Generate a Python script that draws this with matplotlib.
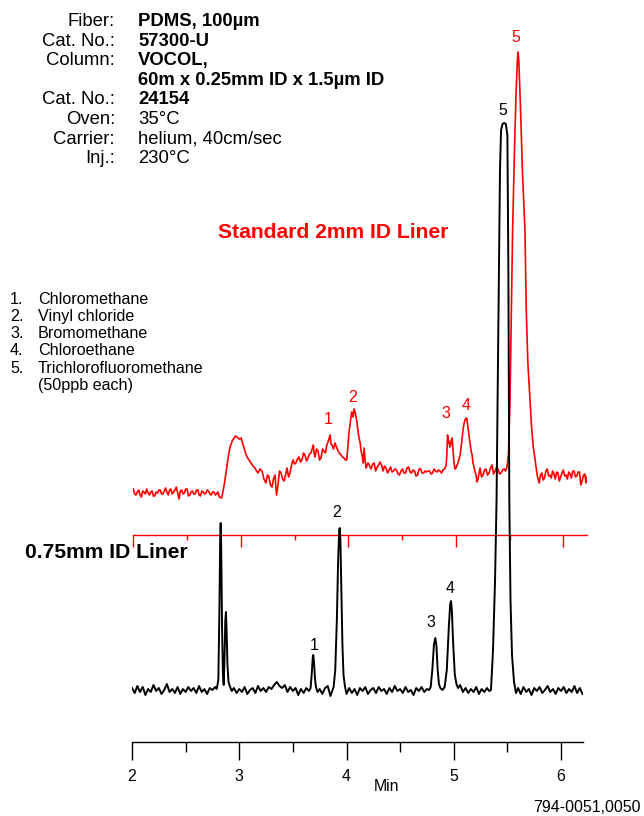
import matplotlib
matplotlib.use('Agg')
import matplotlib.pyplot as plt

plt.rcParams['font.family'] = ['Liberation Sans', 'DejaVu Sans']

# 0.75mm ID liner trace (black), time in min, response above baseline
black_t = [2.00, 2.025, 2.05, 2.075, 2.10, 2.125, 2.15, 2.175, 2.20, 2.225, 2.25, 2.275,
           2.30, 2.325, 2.35, 2.375, 2.40, 2.425, 2.45, 2.475, 2.50, 2.525, 2.55, 2.575,
           2.60, 2.625, 2.65, 2.675, 2.70, 2.725, 2.75, 2.775,
           2.79, 2.805, 2.815, 2.822, 2.827, 2.832, 2.840, 2.848, 2.855, 2.862, 2.870,
           2.876, 2.882, 2.890, 2.900, 2.915, 2.93,
           2.95, 2.975, 3.00, 3.025, 3.05, 3.075, 3.10, 3.125, 3.15, 3.175, 3.20, 3.225,
           3.25, 3.275, 3.30, 3.325, 3.35, 3.375, 3.40, 3.425, 3.45, 3.475, 3.50, 3.525,
           3.55, 3.575, 3.60, 3.625, 3.65,
           3.665, 3.675, 3.685, 3.690, 3.697, 3.706, 3.715, 3.73,
           3.75, 3.775, 3.80, 3.825, 3.85, 3.87,
           3.88, 3.895, 3.91, 3.922, 3.932, 3.937, 3.943, 3.952, 3.962, 3.972, 3.985, 4.00,
           4.025, 4.05, 4.075, 4.10, 4.125, 4.15, 4.175, 4.20, 4.225, 4.25, 4.275, 4.30,
           4.325, 4.35, 4.375, 4.40, 4.425, 4.45, 4.475, 4.50, 4.525, 4.55, 4.575, 4.60,
           4.625, 4.65, 4.675, 4.70, 4.725, 4.75, 4.77,
           4.785, 4.80, 4.815, 4.828, 4.838, 4.85, 4.862, 4.875,
           4.895, 4.915, 4.935, 4.955, 4.967, 4.974, 4.982, 4.995, 5.01, 5.025, 5.04,
           5.06, 5.085, 5.11, 5.135, 5.16, 5.185, 5.21, 5.235, 5.26, 5.285, 5.31, 5.33,
           5.347, 5.366, 5.385, 5.399, 5.415, 5.431, 5.441, 5.455, 5.469, 5.486, 5.50,
           5.509, 5.518, 5.529, 5.543, 5.562, 5.58,
           5.60, 5.625, 5.65, 5.675, 5.70, 5.725, 5.75, 5.775, 5.80, 5.825, 5.85, 5.875,
           5.90, 5.925, 5.95, 5.975, 6.00, 6.025, 6.05, 6.075, 6.10, 6.125, 6.15, 6.175, 6.20]
black_y = [2, -3, 4, -2, 3, -5, 1, -2, 5, -1, 2, -4,
           0, 6, -2, 1, -3, 3, -4, 1, -2, 3, -1, 2,
           -3, 4, -2, 1, -4, 2, 0, 3,
           1, 10, 80, 150, 167, 140, 60, 15, 5, 30, 70,
           78, 60, 25, 8, 3, -1,
           2, -3, 1, -2, 3, -4, 0, 2, -3, 4, -1, 2,
           -2, 3, 1, 5, 8, 4, 2, 5, -2, 3, -1, 2,
           -5, 1, -3, 2, -1,
           2, 15, 32, 35, 28, 12, 3, -2,
           1, -4, 2, 4, -6, 0,
           3, 20, 70, 130, 160, 162, 150, 100, 45, 15, 4, -4,
           2, -3, 1, -5, 2, -1, 3, -4, 0, 2, -3, 3,
           -1, 1, -4, 2, -2, 4, -1, 1, -3, 3, -2, 0,
           -5, 2, -1, 3, -2, 1, 0,
           3, 20, 45, 52, 45, 20, 6, 2,
           0, 3, 20, 65, 86, 89, 80, 45, 15, 6, 2,
           5, -2, 2, -3, 1, -2, 3, -4, 1, -2, 2, -1,
           0, 40, 110, 190, 357, 520, 560, 566, 567, 566, 555,
           423, 190, 90, 35, 8, -3,
           2, -4, 3, -2, 1, -5, 2, -1, 3, -3, 0, 4,
           -2, 1, -4, 2, -1, 3, -3, 1, -2, 4, -3, 2, -4]

# standard 2mm ID liner trace (red)
red_t = [2.00, 2.0125, 2.025, 2.0375, 2.05, 2.0625, 2.075, 2.0875, 2.10, 2.1125, 2.125, 2.1375,
         2.15, 2.1625, 2.175, 2.1875, 2.20, 2.2125, 2.225, 2.2375, 2.25, 2.2625, 2.275, 2.2875,
         2.30, 2.3125, 2.325, 2.3375, 2.35, 2.3625, 2.375, 2.3875, 2.40, 2.4125, 2.425, 2.4375,
         2.45, 2.4625, 2.475, 2.4875, 2.50, 2.5125, 2.525, 2.5375, 2.55, 2.5625, 2.575, 2.5875,
         2.60, 2.6125, 2.625, 2.6375, 2.65, 2.6625, 2.675, 2.6875, 2.70, 2.7125, 2.725, 2.7375,
         2.75, 2.7625, 2.775, 2.7875, 2.80,
         2.822, 2.842, 2.862, 2.88, 2.90, 2.92, 2.937, 2.95, 2.965, 2.985, 3.002, 3.016,
         3.03, 3.044, 3.058, 3.076, 3.095, 3.113, 3.132, 3.146, 3.16, 3.178, 3.197, 3.215,
         3.234, 3.248, 3.262, 3.276, 3.29, 3.304, 3.318, 3.332, 3.346, 3.36, 3.374, 3.388,
         3.402, 3.416, 3.43, 3.444, 3.458, 3.472, 3.486, 3.50, 3.513, 3.527, 3.541, 3.555,
         3.569, 3.583, 3.597, 3.611, 3.625, 3.639, 3.653, 3.664, 3.674, 3.682, 3.69, 3.704,
         3.718, 3.732, 3.746, 3.76, 3.774, 3.787, 3.80, 3.815, 3.83, 3.839, 3.848, 3.862,
         3.876, 3.89, 3.904, 3.918, 3.932, 3.946, 3.96, 3.972, 3.985, 3.995, 4.006, 4.02,
         4.032, 4.038, 4.044, 4.054, 4.063, 4.072, 4.081, 4.095, 4.11, 4.12, 4.128, 4.138,
         4.147, 4.156, 4.166, 4.175, 4.184, 4.198, 4.212, 4.226, 4.24, 4.254, 4.268, 4.282,
         4.295, 4.309, 4.323, 4.337, 4.35, 4.365, 4.379, 4.393, 4.407, 4.421, 4.435, 4.449,
         4.462, 4.476, 4.49, 4.504, 4.518, 4.532, 4.546, 4.56, 4.574, 4.588, 4.602, 4.616,
         4.63, 4.644, 4.658, 4.672, 4.686, 4.70, 4.714, 4.727, 4.74, 4.755, 4.77, 4.784,
         4.797, 4.811, 4.825, 4.839, 4.853, 4.867, 4.88, 4.895, 4.91, 4.917, 4.923, 4.93,
         4.937, 4.944, 4.951, 4.958, 4.965, 4.974, 4.983, 4.993, 5.002, 5.011, 5.02, 5.03,
         5.04, 5.049, 5.058, 5.068, 5.077, 5.089, 5.101, 5.108, 5.114, 5.123, 5.132, 5.142,
         5.151, 5.16, 5.17, 5.179, 5.188, 5.197, 5.207, 5.216, 5.225, 5.239, 5.253, 5.267,
         5.28, 5.295, 5.309, 5.323, 5.337, 5.351, 5.365, 5.379, 5.393, 5.407, 5.42, 5.435,
         5.449, 5.462, 5.476,
         5.49, 5.504, 5.516, 5.528, 5.545, 5.56, 5.572, 5.579, 5.586, 5.60, 5.62, 5.643,
         5.655, 5.67, 5.69, 5.705, 5.72, 5.735, 5.75, 5.76,
         5.775, 5.7875, 5.80, 5.8125, 5.825, 5.8375, 5.85, 5.8625, 5.875, 5.8875, 5.90, 5.9125,
         5.925, 5.9375, 5.95, 5.9625, 5.975, 5.9875, 6.00, 6.0125, 6.025, 6.0375, 6.05, 6.0625,
         6.075, 6.0875, 6.10, 6.1125, 6.125, 6.1375, 6.15, 6.1625, 6.175, 6.1875, 6.20, 6.21, 6.22]
red_y = [4, -1, -2, 1, 3, -2, -4, 2, 1, -1, 4, 0,
         -2, 1, 2, -3, -3, 1, 0, 3, 3, -1, -1, 2,
         5, 1, -2, 3, 4, -1, 1, 3, 6, 0, -6, 2,
         3, -1, 0, 4, 4, -3, -2, 1, 2, -1, -1, 3,
         3, -2, -3, 2, 1, -1, 0, 3, 2, -1, -2, 1,
         1, -2, -1, 1, -4,
         -5, 6, 20, 34, 46, 52, 55, 57, 56, 54, 55, 50,
         45, 40, 36, 33, 30, 27, 25, 22, 20, 24, 22, 14,
         10, 18, 16, 8, 6, 14, 18, -2, 8, 22, 20, 14,
         12, 18, 25, 16, 20, 28, 33, 29, 30, 34, 36, 31,
         33, 40, 38, 32, 35, 39, 40, 44, 48, 40, 36, 44,
         42, 33, 35, 44, 42, 40, 48, 52, 58, 49, 48, 44,
         50, 46, 42, 40, 38, 36, 35, 33, 33, 45, 60, 72,
         81, 79, 76, 84, 81, 76, 70, 58, 50, 41, 38, 30,
         45, 33, 25, 28, 30, 27, 24, 29, 30, 22, 26, 28,
         31, 28, 22, 27, 25, 20, 23, 26, 21, 22, 24, 23,
         19, 18, 22, 24, 20, 20, 25, 26, 21, 20, 23, 22,
         17, 18, 24, 24, 20, 20, 22, 21, 22, 22, 19, 20,
         24, 22, 21, 23, 22, 20, 23, 24, 28, 40, 58, 50,
         52, 46, 48, 53, 55, 42, 30, 24, 25, 28, 30, 34,
         38, 46, 55, 64, 70, 74, 75, 70, 65, 57, 50, 42,
         38, 30, 25, 21, 18, 11, 14, 20, 25, 16, 18, 23,
         24, 18, 20, 25, 28, 19, 22, 26, 24, 19, 20, 23,
         24, 22, 26,
         40, 93, 180, 263, 340, 400, 432, 441, 432, 390, 320, 263,
         183, 130, 93, 65, 46, 35, 23, 16,
         10, 18, 20, 13, 15, 22, 24, 17, 18, 15, 22, 19,
         14, 21, 20, 12, 16, 20, 23, 17, 18, 14, 21, 19,
         15, 22, 22, 16, 17, 21, 21, 8, 12, 18, 19, 10, 16]

# peak labels
black_labels = ['1', '2', '3', '4', '5']
black_label_t = [3.697, 3.91, 4.79, 4.965, 5.459]
black_label_y = [45, 178, 68, 102, 580]
red_labels = ['1', '2', '3', '4', '5']
red_label_t = [3.81, 4.04, 4.91, 5.096, 5.56]
red_label_y = [73, 95, 80, 88, 455]

header_keys = ['Fiber:', 'Cat. No.:', 'Column:', '', 'Cat. No.:', 'Oven:', 'Carrier:', 'Inj.:']
header_vals = ['PDMS, 100µm', '57300-U', 'VOCOL,', '60m x 0.25mm ID x 1.5µm ID', '24154',
               '35°C', 'helium, 40cm/sec', '230°C']
header_bold = [True, True, True, True, True, False, False, False]

compounds = ['Chloromethane', 'Vinyl chloride', 'Bromomethane', 'Chloroethane',
             'Trichlorofluoromethane']

W, H = 644, 816
fig = plt.figure(figsize=(W / 100, H / 100), dpi=100)


def fx(px):
    return px / W


def fy(py):
    return 1 - py / H


# red (standard liner) axes
ax_r = fig.add_axes([fx(133.3), fy(535), fx(587 - 133.3), (535 - 20) / H])
ax_r.set_facecolor('none')
ax_r.plot(red_t, red_y, color='#ff0000', lw=1.2)
ax_r.set_xlim(2, 6.22)
ax_r.set_ylim(-42, 473)
for s in ['top', 'left', 'right']:
    ax_r.spines[s].set_visible(False)
ax_r.spines['bottom'].set_color('#ff0000')
ax_r.spines['bottom'].set_linewidth(1.0)
ax_r.set_xticks([2, 3, 4, 5, 6])
ax_r.set_xticks([2.5, 3.5, 4.5, 5.5], minor=True)
ax_r.tick_params(axis='x', which='major', direction='out', length=8.6, width=1.0,
                 color='#ff0000', labelbottom=False)
ax_r.tick_params(axis='x', which='minor', direction='out', length=3.6, width=1.0,
                 color='#ff0000')
ax_r.set_yticks([])
for lab, t, y in zip(red_labels, red_label_t, red_label_y):
    ax_r.text(t, y, lab, color='#ff0000', fontsize=11.4, ha='center', va='center')

# black (0.75mm liner) axes
ax = fig.add_axes([fx(132), fy(741.7), fx(583 - 132), 641.7 / H])
ax.set_facecolor('none')
ax.plot(black_t, black_y, color='black', lw=1.4)
ax.set_xlim(2, 6.205)
ax.set_ylim(-51.7, 590)
for s in ['top', 'left', 'right']:
    ax.spines[s].set_visible(False)
ax.spines['bottom'].set_linewidth(1.0)
ax.set_xticks([2, 3, 4, 5, 6])
ax.set_xticks([2.5, 3.5, 4.5, 5.5], minor=True)
ax.tick_params(axis='x', which='major', direction='out', length=13, width=1.0,
               labelsize=11.4, pad=7)
ax.tick_params(axis='x', which='minor', direction='out', length=7.2, width=1.0)
ax.set_yticks([])
ax.set_xlabel('Min', fontsize=11.4, va='center')
ax.xaxis.set_label_coords((386.7 - 132) / 451, -(786.7 - 741.7) / 641.7)
for lab, t, y in zip(black_labels, black_label_t, black_label_y):
    ax.text(t, y, lab, color='black', fontsize=11.4, ha='center', va='center')

# header block
for i, (k, v, b) in enumerate(zip(header_keys, header_vals, header_bold)):
    yy = fy(21.5 + i * 19.6)
    fig.text(fx(115), yy, k, ha='right', va='center', fontsize=13.3)
    fig.text(fx(138), yy, v, ha='left', va='center', fontsize=13.3,
             fontweight='bold' if b else 'normal')

fig.text(fx(218), fy(232.5), 'Standard 2mm ID Liner', color='#ff0000', fontsize=15.2,
         fontweight='bold', ha='left', va='center')
fig.text(fx(25), fy(553), '0.75mm ID Liner', color='black', fontsize=15.2,
         fontweight='bold', ha='left', va='center')

for i, c in enumerate(compounds):
    yy = fy(299 + i * 17.3)
    fig.text(fx(10), yy, '%d.' % (i + 1), ha='left', va='center', fontsize=11.6)
    fig.text(fx(38), yy, c, ha='left', va='center', fontsize=11.6)
fig.text(fx(38), fy(385.5), '(50ppb each)', ha='left', va='center', fontsize=11.6)

fig.text(fx(641), fy(808), '794-0051,0050', ha='right', va='center', fontsize=11.5)

fig.savefig('out.png', dpi=100)
